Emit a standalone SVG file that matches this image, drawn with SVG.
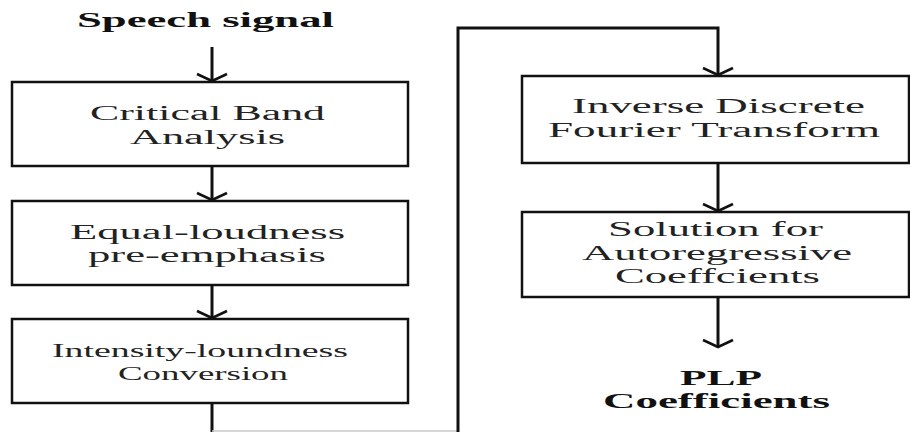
<svg xmlns="http://www.w3.org/2000/svg" width="910" height="432" viewBox="0 0 910 432">
<defs>
<style>
.box{fill:#fff;stroke:#111;stroke-width:2.5}
.edge{fill:none;stroke:#111;stroke-width:3}
.faint{fill:none;stroke:#c8c8c8;stroke-width:1.5}
.head{fill:none;stroke:#111;stroke-width:2.5}
.t{font-family:"Liberation Serif","Times New Roman",serif;font-size:20px;fill:#222}
.b{font-family:"Liberation Serif","Times New Roman",serif;font-size:21px;font-weight:bold;fill:#111}
</style>
</defs>
<rect width="910" height="432" fill="#fff"/>
<g id="connectors">
<line class="edge" x1="212" y1="47" x2="212" y2="81"/>
<polyline class="head" points="197,74 212,81 227,74"/>
<line class="edge" x1="212" y1="167" x2="212" y2="200"/>
<polyline class="head" points="197,193 212,200 227,193"/>
<line class="edge" x1="212" y1="286" x2="212" y2="318"/>
<polyline class="head" points="197,311 212,318 227,311"/>
<line class="edge" x1="212" y1="404" x2="212" y2="432"/>
<line class="faint" x1="212" y1="431" x2="458" y2="431"/>
<polyline class="edge" points="458,432 458,28 718,28 718,75"/>
<polyline class="head" points="703,68 718,75 733,68"/>
<line class="edge" x1="718" y1="164" x2="718" y2="211"/>
<polyline class="head" points="703,204 718,211 733,204"/>
<line class="edge" x1="718" y1="298" x2="718" y2="347"/>
<polyline class="head" points="703,340 718,347 733,340"/>
</g>
<g id="speech">
<text class="b" x="77" y="27" textLength="257" lengthAdjust="spacingAndGlyphs">Speech signal</text>
</g>
<g id="critical">
<rect class="box" x="12" y="82" width="396" height="84"/>
<text class="t" x="90" y="120" textLength="235" lengthAdjust="spacingAndGlyphs">Critical Band</text>
<text class="t" x="130" y="144" textLength="155" lengthAdjust="spacingAndGlyphs">Analysis</text>
</g>
<g id="equal">
<rect class="box" x="12" y="201" width="396" height="84"/>
<text class="t" x="70" y="239" textLength="275" lengthAdjust="spacingAndGlyphs">Equal-loudness</text>
<text class="t" x="88" y="262" textLength="238" lengthAdjust="spacingAndGlyphs">pre-emphasis</text>
</g>
<g id="intensity">
<rect class="box" x="12" y="319" width="396" height="84"/>
<text class="t" style="font-size:18px" x="52" y="357" textLength="296" lengthAdjust="spacingAndGlyphs">Intensity-loundness</text>
<text class="t" style="font-size:18px" x="118" y="380" textLength="170" lengthAdjust="spacingAndGlyphs">Conversion</text>
</g>
<g id="idft">
<rect class="box" x="522" y="76" width="387" height="87"/>
<text class="t" x="572" y="113" textLength="293" lengthAdjust="spacingAndGlyphs">Inverse Discrete</text>
<text class="t" x="548" y="137" textLength="332" lengthAdjust="spacingAndGlyphs">Fourier Transform</text>
</g>
<g id="solution">
<rect class="box" x="522" y="212" width="387" height="85"/>
<text class="t" x="608" y="236" textLength="215" lengthAdjust="spacingAndGlyphs">Solution for</text>
<text class="t" x="582" y="260" textLength="270" lengthAdjust="spacingAndGlyphs">Autoregressive</text>
<text class="t" x="615" y="283" textLength="205" lengthAdjust="spacingAndGlyphs">Coeffcients</text>
</g>
<g id="plp">
<text class="b" x="680" y="385" textLength="82" lengthAdjust="spacingAndGlyphs">PLP</text>
<text class="b" x="603" y="408" textLength="227" lengthAdjust="spacingAndGlyphs">Coefficients</text>
</g>
</svg>
